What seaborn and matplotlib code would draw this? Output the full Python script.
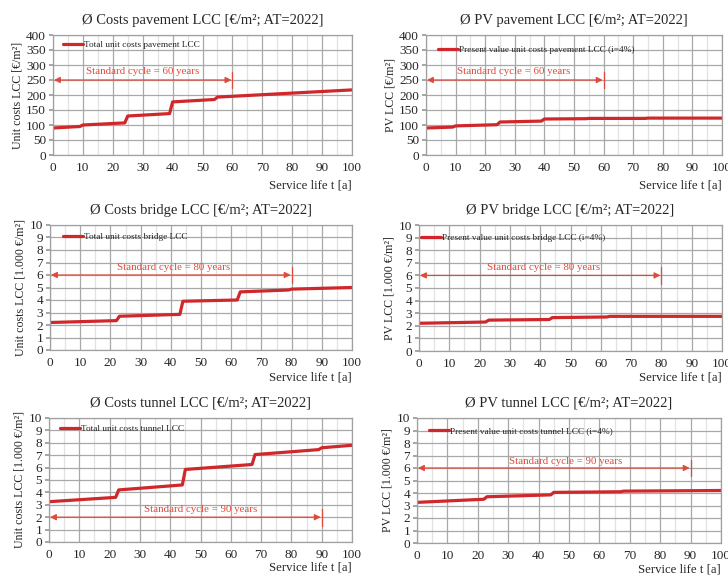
import matplotlib
matplotlib.use("Agg")
import matplotlib.pyplot as plt
import seaborn as sns
import pandas as pd
from matplotlib.ticker import MultipleLocator

# ---------------- data ----------------
pave_cost_t = [0, 9, 10, 24, 25, 39, 40, 54, 55, 100]
pave_cost_v = [90, 95, 100, 107, 130, 138, 177, 185, 193, 217]

pave_pv_t = [0, 9, 10, 24, 25, 39, 40, 54, 55, 74, 75, 100]
pave_pv_v = [90, 93, 97, 101, 110, 113, 120, 121, 122, 122, 123, 123]

bridge_cost_t = [0, 22, 23, 43, 44, 62, 63, 79, 80, 100]
bridge_cost_v = [2.2, 2.35, 2.7, 2.85, 3.9, 4.0, 4.65, 4.8, 4.87, 5.0]

bridge_pv_t = [0, 22, 23, 43, 44, 62, 63, 100]
bridge_pv_v = [2.2, 2.3, 2.45, 2.5, 2.65, 2.7, 2.75, 2.75]

tunnel_cost_t = [0, 22, 23, 44, 45, 67, 68, 89, 90, 100]
tunnel_cost_v = [3.25, 3.6, 4.2, 4.6, 5.85, 6.25, 7.05, 7.45, 7.6, 7.8]

tunnel_pv_t = [0, 22, 23, 44, 45, 67, 68, 100]
tunnel_pv_v = [3.25, 3.5, 3.7, 3.85, 4.05, 4.1, 4.15, 4.2]

titles = [
    "Ø Costs pavement LCC [€/m²; AT=2022]",
    "Ø PV pavement LCC [€/m²; AT=2022]",
    "Ø Costs bridge LCC [€/m²; AT=2022]",
    "Ø PV bridge LCC [€/m²; AT=2022]",
    "Ø Costs tunnel LCC [€/m²; AT=2022]",
    "Ø PV tunnel LCC [€/m²; AT=2022]",
]
ylabels = [
    "Unit costs LCC [€/m²]",
    "PV LCC [€/m²]",
    "Unit costs LCC [1.000 €/m²]",
    "PV LCC [1.000 €/m²]",
    "Unit costs LCC [1.000 €/m²]",
    "PV LCC [1.000 €/m²]",
]
legends = [
    "Total unit costs pavement LCC",
    "Present value unit costs pavement LCC (i=4%)",
    "Total unit costs bridge LCC",
    "Present value unit costs bridge LCC (i=4%)",
    "Total unit costs tunnel LCC",
    "Present value unit costs tunnel LCC (i=4%)",
]
cycle_years = [60, 60, 80, 80, 90, 90]
cycle_labels = ["Standard cycle = 60 years", "Standard cycle = 60 years",
                "Standard cycle = 80 years", "Standard cycle = 80 years",
                "Standard cycle = 90 years", "Standard cycle = 90 years"]
arrow_y = [250, 250, 6, 6, 2, 6]
text_y = [277, 277, 6.6, 6.6, 2.66, 6.56]
text_x = [30, 29.5, 41, 41, 50, 49]
ymax = [400, 400, 10, 10, 10, 10]
ystep = [50, 50, 1, 1, 1, 1]

series = [
    (pave_cost_t, pave_cost_v), (pave_pv_t, pave_pv_v),
    (bridge_cost_t, bridge_cost_v), (bridge_pv_t, bridge_pv_v),
    (tunnel_cost_t, tunnel_cost_v), (tunnel_pv_t, tunnel_pv_v),
]

# ---------------- style ----------------
sns.set_theme(style="white")
plt.rcParams["font.family"] = ["Liberation Serif", "DejaVu Serif"]

LINE = "#d0282a"
ANNOT = "#e04a3a"

fig = plt.figure(figsize=(7.28, 5.79), dpi=100)
W, H = 728, 579
# axes boxes in pixels: left, top, right, bottom
boxes = [
    (53, 35, 352, 155),
    (426, 35, 722, 155),
    (50, 225, 352, 350),
    (419, 225, 722, 351),
    (49, 418, 352, 542),
    (417, 418, 721, 543),
]
# legend handle offset (px from axes left, px from axes top)
leg_off = [(10, 10), (12, 15), (13, 12), (2, 13), (11, 11), (12, 13)]
# x-label offset below axes (px)
xlab_off = [30, 30, 28, 27, 26, 26]

for i, (l, t, r, b) in enumerate(boxes):
    w, h = r - l, b - t
    ax = fig.add_axes([l / W, 1 - b / H, w / W, h / H])
    tt, vv = series[i]
    df = pd.DataFrame({"t": tt, "v": vv})
    sns.lineplot(data=df, x="t", y="v", ax=ax, color=LINE, lw=2.3,
                 label=legends[i])
    ax.set_xlim(0, 100)
    ax.set_ylim(0, ymax[i])
    ax.xaxis.set_major_locator(MultipleLocator(10))
    ax.xaxis.set_minor_locator(MultipleLocator(5))
    ax.yaxis.set_major_locator(MultipleLocator(ystep[i]))
    ax.grid(which="major", color="#a8a8a8", lw=0.9)
    ax.grid(which="minor", axis="x", color="#e2e2e2", lw=0.9)
    ax.set_axisbelow(True)
    for s in ["top", "right", "left", "bottom"]:
        ax.spines[s].set_color("#a0a0a0")
        ax.spines[s].set_linewidth(0.9)
    ax.tick_params(axis="both", which="major", labelsize=9.5, length=3,
                   color="#9a9a9a", pad=2, direction="out", left=True, bottom=False)
    ax.tick_params(axis="x", which="minor", bottom=False)
    ax.set_title(titles[i], fontsize=10.5, pad=8)
    ax.set_ylabel(ylabels[i], fontsize=8.6, labelpad=2)
    ax.set_xlabel("")
    ax.text(1.0, -xlab_off[i] / h, "Service life t [a]", transform=ax.transAxes,
            ha="right", va="center", fontsize=9.2)
    # standard cycle arrow
    cy = cycle_years[i]
    ay = arrow_y[i]
    ax.annotate("", xy=(0.3, ay), xytext=(cy - 0.3, ay),
                arrowprops=dict(arrowstyle="<|-|>", color=ANNOT, lw=0.9,
                                mutation_scale=9, shrinkA=0, shrinkB=0))
    half = 0.067 * ymax[i]
    ax.plot([cy, cy], [ay - half, ay + half], color=ANNOT, lw=0.9)
    ax.text(text_x[i], text_y[i], cycle_labels[i], color=ANNOT,
            fontsize=7.8, ha="center", va="center")
    dx, dy = leg_off[i]
    ax.legend(loc="center left", frameon=False, fontsize=6.7,
              handlelength=2.1, handletextpad=0.15, borderpad=0,
              borderaxespad=0, bbox_to_anchor=(dx / w, 1 - dy / h))

fig.savefig("out.png", dpi=100)
